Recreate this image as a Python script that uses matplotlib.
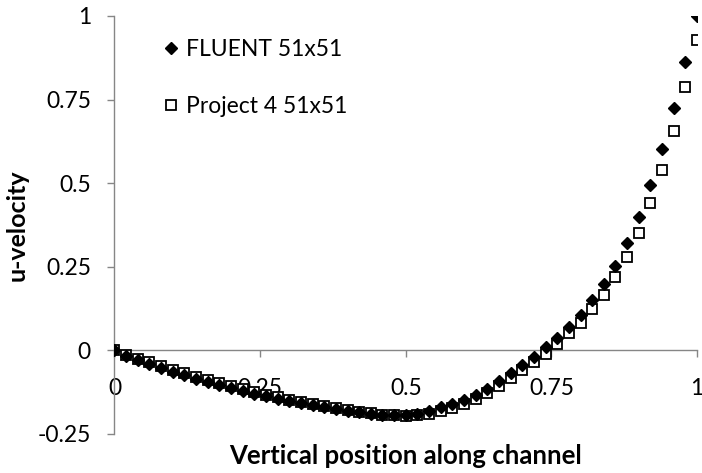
import matplotlib.pyplot as plt
import numpy as np
from matplotlib.ticker import FuncFormatter

plt.rcParams["font.family"] = ["Lato", "DejaVu Sans"]

position = np.linspace(0, 1, 51)

u_fluent = [0.000, -0.018, -0.030, -0.042, -0.053, -0.064, -0.075, -0.085, -0.095, -0.104,
            -0.113, -0.121, -0.129, -0.137, -0.144, -0.151, -0.158, -0.164, -0.170, -0.176,
            -0.181, -0.185, -0.189, -0.192, -0.194, -0.193, -0.189, -0.181, -0.170, -0.159,
            -0.147, -0.132, -0.114, -0.093, -0.069, -0.043, -0.021, 0.009, 0.036, 0.069,
            0.105, 0.150, 0.198, 0.252, 0.320, 0.398, 0.494, 0.602, 0.725, 0.862, 1.000]

u_project4 = [0.000, -0.013, -0.025, -0.036, -0.047, -0.058, -0.069, -0.079, -0.089, -0.098,
              -0.107, -0.116, -0.124, -0.132, -0.140, -0.147, -0.154, -0.161, -0.167, -0.173,
              -0.179, -0.184, -0.188, -0.192, -0.194, -0.195, -0.194, -0.190, -0.182, -0.172,
              -0.160, -0.146, -0.128, -0.106, -0.084, -0.060, -0.036, -0.012, 0.018, 0.051,
              0.081, 0.123, 0.165, 0.219, 0.278, 0.350, 0.440, 0.539, 0.656, 0.787, 0.928]

x_ticks = [0, 0.25, 0.5, 0.75, 1]
y_ticks = [-0.25, 0, 0.25, 0.5, 0.75, 1]

fig = plt.figure(figsize=(7.02, 4.73), dpi=100)
ax = fig.add_axes([0.1631, 0.0825, 0.8298, 0.8837])

ax.plot(position, u_fluent, linestyle="none", marker="D", markersize=6.4,
        color="black", label="FLUENT 51x51", zorder=4)
ax.plot(position, u_project4, linestyle="none", marker="s", markersize=7.2,
        markerfacecolor="white", markeredgecolor="black", markeredgewidth=1.3,
        label="Project 4 51x51", zorder=3)

ax.set_xlim(0, 1)
ax.set_ylim(-0.25, 1)
ax.set_xticks(x_ticks)
ax.set_yticks(y_ticks)
fmt = FuncFormatter(lambda v, p: f"{v:g}")
ax.xaxis.set_major_formatter(fmt)
ax.yaxis.set_major_formatter(fmt)

for side in ["top", "right"]:
    ax.spines[side].set_visible(False)
ax.spines["bottom"].set_position(("data", 0))
for side in ["bottom", "left"]:
    ax.spines[side].set_color("#868686")
    ax.spines[side].set_linewidth(1.0)

ax.tick_params(axis="both", colors="#868686", length=5, width=1.0,
               labelcolor="black", labelsize=16.5)
ax.tick_params(axis="x", pad=15)
ax.tick_params(axis="y", pad=12)

ax.set_xlabel("Vertical position along channel", fontsize=18.5, fontweight="bold")
ax.xaxis.set_label_coords(0.5, -0.025)
ax.set_ylabel("u-velocity", fontsize=18, fontweight="bold")
ax.yaxis.set_label_coords(-0.148, 0.5)

ax.legend(loc="upper left", bbox_to_anchor=(0.042, 0.995), frameon=False,
          fontsize=16.5, labelspacing=1.6, handletextpad=0.15, handlelength=1.0)

plt.savefig("out.png", dpi=100)
